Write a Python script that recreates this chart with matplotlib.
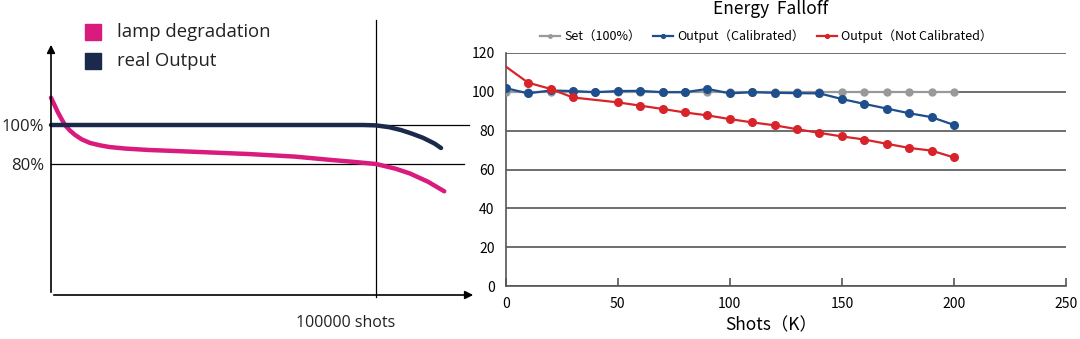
import numpy as np
import matplotlib
matplotlib.use("Agg")
import matplotlib.pyplot as plt

plt.rcParams['font.family'] = ['Noto Sans CJK SC', 'DejaVu Sans']

# ---- left panel: schematic (x in units of 100000 shots, y in %)
lamp_x = [0.0, 0.01, 0.02, 0.032, 0.043, 0.058, 0.074, 0.095, 0.12, 0.15, 0.18, 0.23, 0.30, 0.45,
          0.61, 0.75, 0.86, 0.93, 1.0, 1.06, 1.105, 1.16, 1.21]
lamp_y = [114, 110.5, 106.9, 103.2, 100, 97.2, 94.9, 92.6, 90.8, 89.6, 88.7, 87.9, 87.2, 86.2,
          85.1, 83.8, 82.1, 81.1, 80, 77.6, 75.1, 70.9, 66.0]
real_x = [0.0, 0.5, 0.96, 1.0, 1.04, 1.077, 1.11, 1.145, 1.18, 1.2]
real_y = [100, 100, 100, 99.8, 98.9, 97.4, 95.6, 93.4, 90.5, 88.2]
left_ticks = [100, 80]
left_tick_labels = ['100%', '80%']

# ---- right panel: Energy Falloff
shots = [0, 10, 20, 30, 40, 50, 60, 70, 80, 90, 100, 110, 120, 130, 140, 150, 160, 170, 180, 190, 200]
set_100 = [100] * len(shots)
calibrated = [101.8, 99.1, 100.6, 100.3, 99.7, 100.3, 100.4, 99.7, 99.7, 101.4, 99.1,
              99.7, 99.4, 99.2, 99.1, 96.2, 93.7, 91.3, 88.9, 86.9, 82.9]
nc_shots = [0, 10, 20, 30, 50, 60, 70, 80, 90, 100, 110, 120, 130, 140, 150, 160, 170, 180, 190, 200]
not_calibrated = [112.9, 104.6, 101.4, 97.0, 94.5, 92.8, 91.1, 89.3, 87.8, 85.9, 84.2,
                  82.7, 80.7, 78.8, 77.0, 75.4, 73.2, 71.1, 69.7, 66.2]

fig = plt.figure(figsize=(10.8, 3.39), dpi=100)

# left axes mapped so that x=0 -> px 51, x=1 -> px 376, y=100 -> py 125, y=80 -> py 164
ax1 = fig.add_axes([0, 0, 480 / 1080, 1])
ax1.set_xlim(-51 / 325, (480 - 51) / 325)
ax1.set_ylim(100 - (339 - 125) / 1.95, 100 + 125 / 1.95)
ax1.axis('off')

magenta = '#d81b7c'
navy = '#1b2a4a'
txt_font = ['Open Sans', 'DejaVu Sans']

y_axis0 = 100 - (295 - 125) / 1.95
ax1.annotate('', xy=(0, 100 + (125 - 42) / 1.95), xytext=(0, y_axis0),
             arrowprops=dict(arrowstyle='-|>', color='black', lw=1.2, mutation_scale=12))
ax1.annotate('', xy=((476 - 51) / 325, y_axis0), xytext=(0, y_axis0),
             arrowprops=dict(arrowstyle='-|>', color='black', lw=1.2, mutation_scale=12))
ax1.plot([1, 1], [100 + (125 - 20) / 1.95, 100 - (297 - 125) / 1.95], color='black', lw=0.9)
ax1.plot([0, (469 - 51) / 325], [100, 100], color='black', lw=0.9)
ax1.plot([0, (464 - 51) / 325], [80, 80], color='black', lw=0.9)

ax1.plot(lamp_x, lamp_y, color=magenta, lw=3.2, solid_capstyle='round', solid_joinstyle='round')
ax1.plot(real_x, real_y, color=navy, lw=3.2, solid_capstyle='round', solid_joinstyle='round')

for v, lab in zip(left_ticks, left_tick_labels):
    ax1.text(-7 / 325, v - 0.8, lab, ha='right', va='center', fontsize=12,
             family=txt_font, color='#222222')
ax1.text(1.0 - 30 / 325, 100 - (323 - 125) / 1.95, '100000 shots', ha='center', va='center',
         fontsize=11.5, family=txt_font, color='#222222')

# legend squares
for i, (c, lab) in enumerate([(magenta, 'lamp degradation'), (navy, 'real Output')]):
    yc = 100 + (125 - (32 + 29 * i)) / 1.95
    ax1.plot([(93 - 51) / 325], [yc], marker='s', markersize=12, color=c, linestyle='none')
    ax1.text((117 - 51) / 325, yc, lab, ha='left', va='center', fontsize=13.3,
             family=txt_font, color='#222222')

# right axes
ax2 = fig.add_axes([505.7 / 1080, 1 - 286.3 / 339, (1066 - 505.7) / 1080, (286.3 - 52.7) / 339])
ax2.plot(shots, set_100, color='#999999', lw=1.6, marker='o', markersize=5, label='Set（100%）', zorder=3)
ax2.plot(shots, calibrated, color='#1f4e8c', lw=1.6, marker='o', markersize=5.5,
         label='Output（Calibrated）', zorder=4)
ax2.plot(nc_shots, not_calibrated, color='#d8232a', lw=1.6, marker='o', markersize=5.5,
         markevery=list(range(1, len(nc_shots))), label='Output（Not Calibrated）', zorder=5)

ax2.set_xlim(0, 250)
ax2.set_ylim(0, 120)
ax2.set_xticks(range(0, 251, 50))
ax2.set_yticks(range(0, 121, 20))
ax2.grid(axis='y', color='#555555', lw=1.2)
ax2.set_axisbelow(True)
for s in ['top', 'right']:
    ax2.spines[s].set_visible(False)
for s in ['left', 'bottom']:
    ax2.spines[s].set_color('#555555')
    ax2.spines[s].set_linewidth(1.2)
ax2.tick_params(axis='x', direction='in', length=6, color='#555555', width=1.2, labelsize=10, pad=8)
ax2.tick_params(axis='y', length=0, labelsize=10, pad=8)

fig.text(771 / 1080, 1 - 9 / 339, 'Energy  Falloff', ha='center', va='center', fontsize=12.5)
fig.text(771 / 1080, 1 - 325 / 339, 'Shots（K）', ha='center', va='center', fontsize=12.5)

ax2.legend(loc='center', bbox_to_anchor=(0.465, 1.07), ncol=3, frameon=False, fontsize=9,
           handlelength=1.6, markerscale=0.5, columnspacing=1.0, handletextpad=0.3)

fig.savefig('out.png', dpi=100)
